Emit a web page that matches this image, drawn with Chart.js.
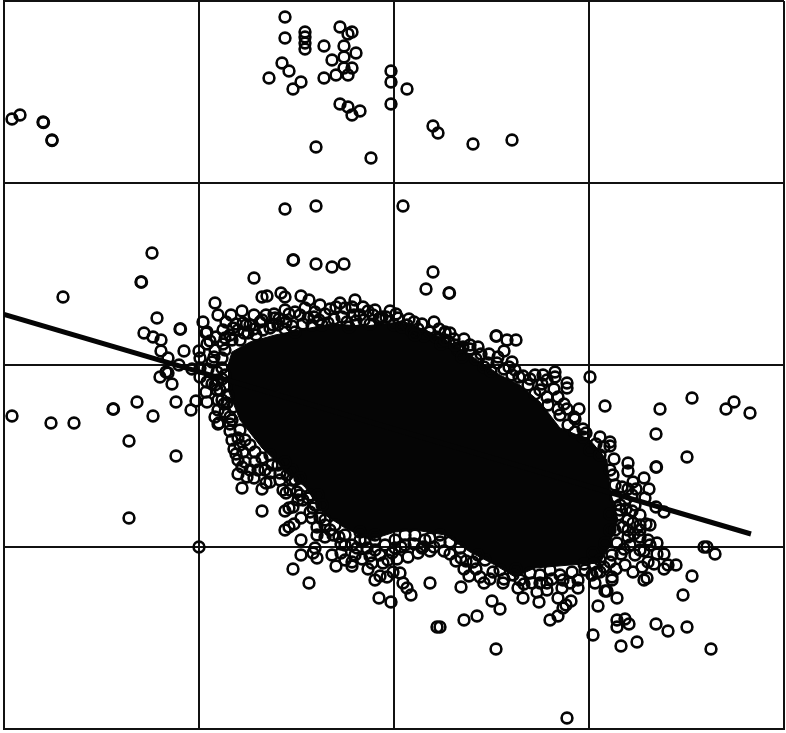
<!DOCTYPE html>
<html>
<head>
<meta charset="utf-8">
<title>Scatter</title>
<script src="https://cdn.jsdelivr.net/npm/chart.js@4"></script>
<style>
  html, body { margin: 0; padding: 0; background: #fff; }
  canvas { display: block; }
</style>
</head>
<body>
<canvas id="spreiding" width="786" height="733"></canvas>
<script>
// The original has no tick labels, so the units are arbitrary: 4 cells across, 4 cells up.
const upperCluster = [[281,712],[281,691],[301,697],[301,692],[301,686],[301,680],[320,683],[336,702],[348,697],[344,695],[340,683],[352,676],[340,672],[328,669],[340,661],[348,661],[344,654],[332,654],[320,651],[278,666],[285,658],[265,651],[297,647],[289,640],[336,625],[344,622],[356,618],[348,614],[387,658],[387,647],[387,625],[403,640],[312,582],[367,571],[429,603],[434,596],[469,585],[508,589],[8,610],[16,614],[39,607],[39.5,606.5],[48,589],[48,588.5],[281,520],[312,523],[399,523]];
const leftStragglers = [[148,476],[137,447],[137.5,447],[59,432],[153,411],[140,396],[149,392],[157,389],[176,400],[176.5,400],[157,378],[180,378],[164,371],[162,357],[156,352],[164,356],[168,345],[175,364],[188,360],[172,327],[192,328],[187,319],[203,327],[133,327],[109,320],[109.5,320],[149,313],[8,313],[47,306],[70,306],[125,288],[172,273],[125,211],[195,182],[258,218]];
const leftOfCore = [[199,407],[211,426],[214,414],[227,414],[238,418],[250,414],[202,396],[219,399],[229,401],[242,404],[203,385],[211,379],[219,385],[195,378],[196,371],[196,361],[196,352],[203,347],[213,357],[202,337],[213,339],[214,329],[223,326],[211,312],[215,306],[226,312],[229,322],[218,371],[208,367],[221,354],[224,334],[214,349],[203,397]];
const topFringe = [[250,451],[289,469],[289.5,469],[312,465],[328,462],[340,465],[429,457],[422,440],[445,436],[445.5,436],[258,432],[263,433],[277,436],[281,432],[297,433],[305,429],[270,415],[291,417],[296,414],[311,417],[321,415],[332,422],[336,426],[351,429],[348,422],[359,422],[371,419],[386,418],[394,411],[410,407],[430,407],[441,397],[426,397],[282,407],[256,407],[239,406],[269,404],[291,397],[343,407],[324,406],[308,404],[356,414],[369,414],[403,404],[454,379],[441,396]];
const upperRightFringe = [[492,393],[492.5,393],[503,389],[512,389],[500,378],[477,375],[508,367],[459,382],[454,381],[484,366],[493,366],[508,354],[519,353],[531,354],[539,354],[551,357],[551,352],[543,349],[563,346],[563,341],[586,352],[601,323],[554,332],[543,332],[531,335],[563,320],[575,320],[554,320],[571,310],[579,300],[579,292],[596,292],[606,287],[606,283],[624,266],[624,258],[640,251],[609,254],[629,247],[645,240],[618,242],[641,231],[628,234]];
const rightFringe = [[656,320],[688,331],[722,320],[730,327],[746,316],[652,295],[683,272],[652,262],[652.5,262],[652,222],[660,217],[636,214],[628,218],[653,186],[644,189],[700,182],[703,182],[711,175],[660,175],[672,164],[660,160],[664,164],[653,175],[644,167],[629,157],[638,162],[688,153],[617,175],[636,179],[631,174],[643,151],[640,149],[608,152],[593,157],[589,176],[601,186],[613,186],[624,192],[636,192],[619,202],[629,206],[606,199],[616,224],[636,204],[606,167],[624,209],[614,214],[646,204]];
const lowerFringe = [[563,11],[492,80],[589,94],[617,83],[633,87],[707,80],[652,105],[664,98],[683,102],[679,134],[613,102],[613,109],[621,110],[625,105],[594,123],[613,131],[603,138],[608,149],[546,109],[554,113],[559,121],[567,128],[562,124],[554,131],[535,127],[519,131],[496,120],[488,128],[473,113],[460,109],[436,102],[433,102],[457,142],[480,146],[499,146],[426,146],[465,153],[460,160],[489,157],[469,167],[457,171],[446,175],[419,182],[430,182],[514,141],[533,137],[543,139],[558,141],[574,141],[591,146],[601,138],[516,149],[528,146],[543,146],[559,149],[574,149],[588,154],[596,157],[509,154],[526,156],[536,154],[556,154]];
const lowerLeftFringe = [[238,241],[234,255],[234,269],[226,298],[214,305],[234,291],[239,277],[243,252],[250,251],[258,240],[262,246],[266,256],[276,256],[279,239],[282,236],[293,237],[283,254],[291,249],[281,218],[285,221],[289,222],[281,199],[285,202],[290,205],[297,211],[306,217],[297,189],[297,174],[289,160],[305,146],[313,202],[313,194],[321,192],[311,181],[309,176],[313,171],[328,174],[337,176],[337,185],[332,163],[348,167],[348,163],[364,160],[375,131],[387,127],[371,149],[376,153],[383,152],[389,157],[396,156],[399,146],[403,141],[407,134],[397,182],[410,185],[418,181],[379,166],[353,181],[326,199],[335,192],[299,229],[309,221],[316,211],[356,189],[363,181],[371,179],[381,184],[388,176],[376,174],[366,173],[384,169],[341,194],[348,184],[391,189],[401,194],[421,189],[436,194]];
// Band of crowded circles straight around the black core
const coreBand = [[236,389],[244,396],[252,394],[259,399],[266,401],[274,404],[281,400],[288,403],[299,405],[304,411],[315,409],[318,404],[330,410],[338,412],[345,402],[352,408],[360,409],[366,405],[375,410],[382,412],[390,404],[398,402],[408,398],[414,400],[420,393],[432,392],[437,385],[445,387],[450,390],[458,372],[466,380],[472,370],[480,362],[487,358],[500,360],[511,359],[524,344],[536,339],[544,324],[556,314],[564,304],[571,297],[586,279],[596,274],[606,259],[611,244],[621,229],[616,219],[631,224],[636,199],[624,199],[646,184],[626,184],[611,199],[608,174],[621,164],[596,169],[581,159],[568,157],[546,159],[496,159],[481,169],[474,174],[456,181],[446,187],[436,187],[426,191],[411,194],[401,184],[391,181],[371,189],[356,197],[331,204],[321,209],[311,224],[306,234],[296,234],[286,239],[288,259],[276,249],[268,264],[261,259],[251,267],[246,259],[241,267],[236,284],[246,284],[228,289],[236,299],[228,309],[221,317],[214,319],[218,329],[216,339],[218,361],[211,344],[221,379],[228,389],[221,391],[234,399],[246,404],[258,409],[271,411],[281,419],[301,421],[316,424],[341,421],[376,411],[411,394],[441,389],[451,384],[466,384]];
const coreBandOuter = [[241,289],[251,277],[258,271],[266,274],[254,259],[266,247],[274,264],[281,267],[288,249],[296,251],[294,229],[304,231],[314,234],[318,224],[308,211],[321,204],[329,194],[341,184],[351,174],[361,189],[371,194],[341,169],[358,170],[368,166],[393,170],[404,172],[414,176],[426,178],[440,178],[452,168],[462,168],[472,160],[476,152],[486,150],[500,150],[512,160],[520,145],[536,146],[548,150],[566,146],[580,165],[590,165],[600,162],[612,160],[620,180],[630,195],[642,205],[622,220],[640,178],[650,165],[606,215],[612,232],[624,240],[632,240],[610,270],[600,282],[592,285],[582,296],[570,312],[560,325],[550,340],[538,345],[526,350],[515,352],[505,362],[494,372],[485,375],[474,382],[460,390],[446,396],[435,400],[418,405],[405,410],[392,415],[378,412],[364,418],[350,414],[326,420],[310,412],[285,415],[275,410],[262,414],[250,400],[240,396],[232,405],[222,407],[226,394],[212,392],[206,388],[210,372],[204,360],[208,345],[218,350],[222,343],[220,325],[226,305],[230,280],[238,262],[232,275]];

// Outline of the part where the circles overlap into solid black
const denseOutline = [[224,364],[228,377],[246,387],[271,394],[296,399],[326,405],[361,403],[396,407],[426,397],[451,384],[466,374],[496,354],[516,344],[536,327],[556,301],[586,289],[603,269],[606,239],[614,209],[604,180],[596,166],[566,164],[531,161],[511,152],[491,164],[466,177],[441,194],[411,199],[391,197],[366,189],[341,201],[321,214],[301,242],[281,259],[258,281],[236,309],[224,339]];

const fitLine = [[0,414.5],[747,195]];

const xTicksStep = 195;
const yTicksStep = 182;

function alsPunten(lijst) {
    return lijst.map(p => ({ x: p[0], y: p[1] }));
}

const alleCirkels = [].concat(upperCluster, leftStragglers, leftOfCore, topFringe, upperRightFringe, rightFringe, lowerFringe, lowerLeftFringe, coreBand, coreBandOuter);

const rooster = {
    color: '#111',
    lineWidth: 2,
    drawTicks: false
};

new Chart(document.getElementById('spreiding').getContext('2d'), {
    type: 'scatter',
    data: {
        datasets: [
            {
                data: alsPunten(fitLine),
                showLine: true,
                borderColor: '#050505',
                borderWidth: 5,
                pointRadius: 0
            },
            {
                data: alsPunten(alleCirkels),
                pointRadius: 5.4,
                pointBorderWidth: 2.6,
                pointBorderColor: '#050505',
                pointBackgroundColor: 'rgba(0,0,0,0)'
            },
            {
                data: alsPunten(denseOutline),
                showLine: true,
                fill: 'shape',
                backgroundColor: '#050505',
                borderColor: '#050505',
                borderWidth: 1,
                pointRadius: 0
            }
        ]
    },
    options: {
        responsive: false,
        animation: false,
        devicePixelRatio: 1,
        layout: { autoPadding: false, padding: { left: 4, right: 2, top: 1, bottom: 4 } },
        plugins: {
            legend: { display: false },
            tooltip: { enabled: false }
        },
        scales: {
            x: {
                type: 'linear',
                min: 0,
                max: 780,
                ticks: { display: false, stepSize: xTicksStep },
                grid: rooster,
                border: { color: '#111', width: 2 }
            },
            y: {
                type: 'linear',
                min: 0,
                max: 728,
                ticks: { display: false, stepSize: yTicksStep },
                grid: rooster,
                border: { color: '#111', width: 2 }
            }
        }
    }
});
</script>
</body>
</html>
